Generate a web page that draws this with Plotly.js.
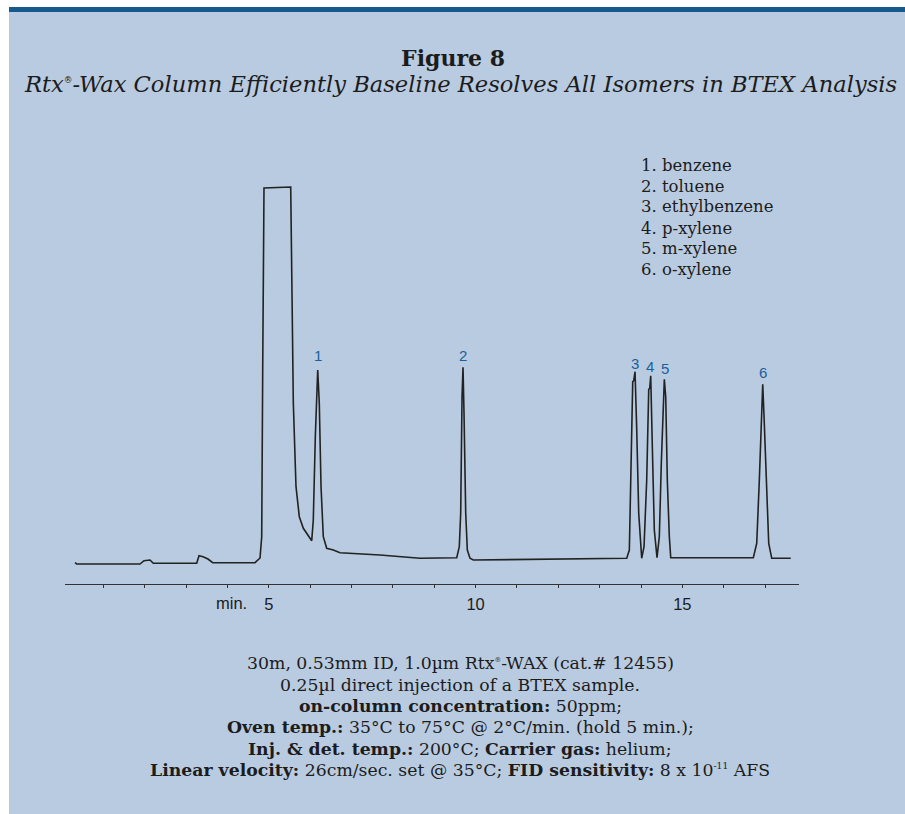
<!DOCTYPE html>
<html><head><meta charset="utf-8">
<script src="https://cdn.plot.ly/plotly-3.0.1.min.js"></script>
<style>
html,body{margin:0;padding:0;background:#ffffff;}
#chart{position:absolute;left:9px;top:7px;width:896px;height:807px;}
</style>
</head><body>
<div id="chart"></div>
<script>
// Chromatogram trace (time in min, detector signal in arbitrary units)
const retentionTime = [
  0.316, 0.357, 1.887, 1.984, 2.129, 2.209, 3.258, 3.314, 3.411, 3.531, 3.645,
  4.668, 4.789, 4.830, 4.854, 4.885, 5.531, 5.555, 5.594, 5.659, 5.739, 5.836,
  6.039, 6.077, 6.126, 6.184, 6.222, 6.264, 6.319, 6.401, 6.561, 6.723, 7.690,
  8.657, 9.545, 9.607, 9.641, 9.673, 9.697, 9.721, 9.762, 9.801, 9.866, 9.946,
  13.655, 13.718, 13.759, 13.800, 13.824, 13.856, 13.897, 13.945, 14.017,
  14.073, 14.138, 14.187, 14.211, 14.235, 14.274, 14.322, 14.387,
  14.443, 14.491, 14.540, 14.564, 14.598, 14.636, 14.685, 14.719,
  16.716, 16.798, 16.861, 16.909, 16.943, 16.975, 17.023, 17.088, 17.161, 17.620
];
const detectorSignal = [
  21.3, 20, 20, 23.3, 24, 20.7, 20.7, 28.3, 27.3, 25, 21.3,
  21.3, 26, 47.3, 214, 396, 397, 314, 181, 97.3, 67.3, 55.7,
  43.3, 64, 147.3, 214, 181, 97.3, 47.3, 35.7, 34, 31.3, 29,
  25.7, 26.3, 37.3, 71, 187.3, 216.7, 171, 71, 34, 25.7, 24,
  25.7, 34, 104, 202.3, 203.3, 212.3, 154, 70.7, 25.7,
  37.3, 104, 194.7, 195.7, 208.3, 137.3, 54, 26.3,
  47.3, 120.7, 187.3, 204.7, 187.3, 104, 47.3, 26.3,
  26.3, 40.7, 104, 164, 199.7, 167.3, 104, 40.7, 25.7, 25.7
];

// Peak labels
const peakNumbers = ['1', '2', '3', '4', '5', '6'];
const peakLabelTimes = [6.18, 9.70, 13.85, 14.21, 14.57, 16.95];
const peakLabelHeights = [229, 229, 221, 218, 216, 212];

// Compound key
const compoundNames = ['benzene', 'toluene', 'ethylbenzene', 'p-xylene', 'm-xylene', 'o-xylene'];

// X axis ticks (labelled majors, minor ticks every minute)
const tickValues = [5, 10, 15];
const tickLabels = ['5', '10', '15'];
const minorTickStep = 1;

// Text
const reg = '<sup><span style="font-size:0.55em">®</span></sup>';
const figureTitle = 'Figure 8';
const figureSubtitle = 'Rtx' + reg + '-Wax Column Efficiently Baseline Resolves All Isomers in BTEX Analysis';
const conditionLines = [
  '30m, 0.53mm ID, 1.0µm Rtx' + reg + '-WAX (cat.# 12455)',
  '0.25µl direct injection of a BTEX sample.',
  '<b>on-column concentration:</b> 50ppm;',
  '<b>Oven temp.:</b> 35°C to 75°C @ 2°C/min. (hold 5 min.);',
  '<b>Inj. &amp; det. temp.:</b> 200°C; <b>Carrier gas:</b> helium;',
  '<b>Linear velocity:</b> 26cm/sec. set @ 35°C; <b>FID sensitivity:</b> 8 x 10<sup><span style="font-size:0.75em">-11</span></sup> AFS'
];

// ---- layout helpers (page pixel -> paper coords) ----
const PL = 65, PR = 799, PT = 180, PB = 584, OX = 9, OY = 7, W = 896, H = 807;
const px = x => (x - PL) / (PR - PL);
const py = y => (PB - y) / (PB - PT);

const serif = 'DejaVu Serif';
const textColor = '#1c1c1c';
const blue = '#1b5f9c';

const annotations = [];
peakNumbers.forEach((n, i) => annotations.push({
  x: peakLabelTimes[i], y: peakLabelHeights[i], xref: 'x', yref: 'y', text: n, showarrow: false,
  font: {family: 'Liberation Sans, Arial', size: 15, color: blue}, xanchor: 'center', yanchor: 'middle'
}));
const keyY = [165, 186, 207, 228, 248, 269];
compoundNames.forEach((c, i) => annotations.push({
  x: px(639), y: py(keyY[i]), xref: 'paper', yref: 'paper', text: (i + 1) + '. ' + c, showarrow: false,
  font: {family: serif, size: 16.5, color: textColor}, xanchor: 'left', yanchor: 'middle'
}));
const condY = [663, 685, 706, 727, 749, 770];
conditionLines.forEach((t, i) => annotations.push({
  x: px(460), y: py(condY[i]), xref: 'paper', yref: 'paper', text: t, showarrow: false,
  font: {family: serif, size: 17.3, color: textColor}, xanchor: 'center', yanchor: 'middle'
}));
annotations.push({
  x: px(460), y: py(84), xref: 'paper', yref: 'paper', text: '<i>' + figureSubtitle + '</i>', showarrow: false,
  font: {family: serif, size: 22.6, color: textColor}, xanchor: 'center', yanchor: 'middle'
});
annotations.push({
  x: px(249), y: py(603), xref: 'paper', yref: 'paper', text: 'min.', showarrow: false,
  font: {family: 'Liberation Sans, Arial', size: 16.5, color: textColor}, xanchor: 'right', yanchor: 'middle'
});

const trace = {
  x: retentionTime, y: detectorSignal, type: 'scatter', mode: 'lines',
  line: {color: '#222222', width: 1.6}, hoverinfo: 'skip', showlegend: false
};

const layout = {
  width: W, height: H,
  paper_bgcolor: '#b9cbe0', plot_bgcolor: 'rgba(0,0,0,0)',
  margin: {l: PL - OX, r: W - (PR - OX), t: PT - OY, b: H - (PB - OY), pad: 0},
  title: {
    text: '<b>' + figureTitle + '</b>', xref: 'container', yref: 'container',
    x: (453 - OX) / W, xanchor: 'center', y: 1 - (58 - OY) / H, yanchor: 'middle',
    font: {family: serif, size: 22, color: textColor}
  },
  xaxis: {
    range: [0.074, 17.82], showgrid: false, zeroline: false, showline: true,
    linecolor: '#333333', linewidth: 1.2, ticks: 'outside', ticklen: 3, tickwidth: 1,
    tickcolor: '#333333', tickvals: tickValues, ticktext: tickLabels,
    minor: {dtick: minorTickStep, tick0: 0, ticks: 'outside', ticklen: 3, tickwidth: 1, tickcolor: '#333333', showgrid: false},
    tickfont: {family: 'Liberation Sans, Arial', size: 16.5, color: textColor},
    ticklabelstandoff: 2, fixedrange: true
  },
  yaxis: {range: [0, 404], visible: false, fixedrange: true},
  shapes: [{
    type: 'rect', xref: 'paper', yref: 'paper',
    x0: px(OX), x1: px(OX + W), y0: py(12), y1: py(OY),
    fillcolor: '#17598c', line: {width: 0}
  }],
  annotations: annotations
};

Plotly.newPlot('chart', [trace], layout, {staticPlot: true, displayModeBar: false});
</script>
</body></html>
